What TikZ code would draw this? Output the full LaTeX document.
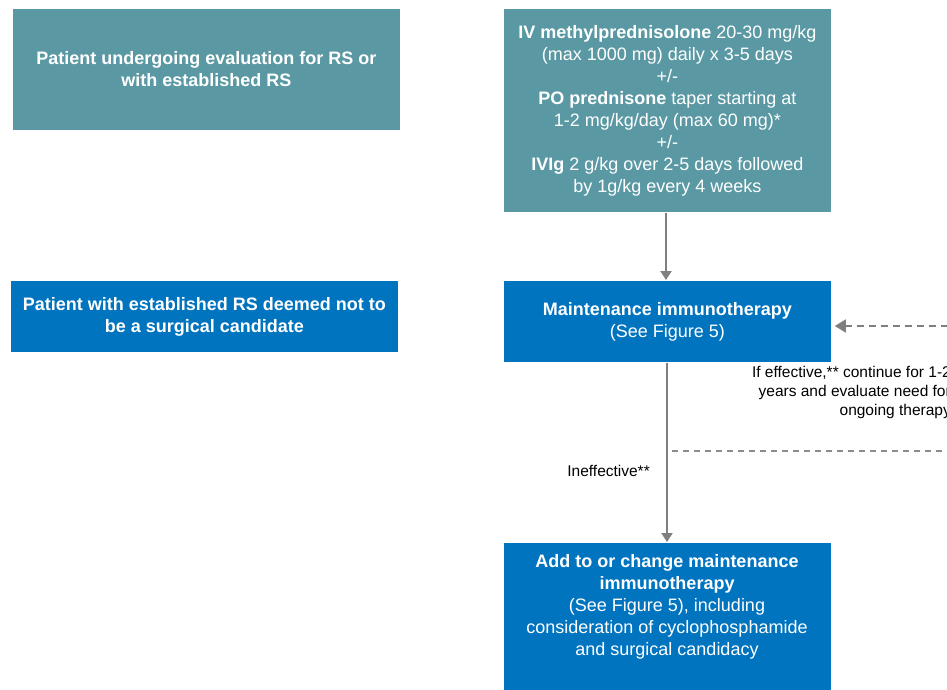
\documentclass[tikz,border=0pt]{standalone}
\usepackage{fontspec}
\setmainfont{Liberation Sans}
\usetikzlibrary{arrows.meta}
\definecolor{tealbox}{HTML}{5A99A4}
\definecolor{bluebox}{HTML}{0174C0}
\definecolor{arrowgray}{HTML}{7F7F7F}
\definecolor{dashgray}{HTML}{8C8C8C}
\tikzset{
  box/.style={draw=white, line width=0.8pt, anchor=north west, text=white, align=center, inner sep=0pt, font=\fontsize{18}{22}\selectfont},
  tealfill/.style={box, fill=tealbox},
  bluefill/.style={box, fill=bluebox},
  flow/.style={draw=arrowgray, line width=2pt, -{Triangle[width=11pt,length=9pt]}},
  dashflow/.style={draw=arrowgray, line width=1.6pt, dash pattern=on 7pt off 5pt, -{Triangle[width=13pt,length=11pt]}},
  dashline/.style={draw=dashgray, line width=1.3pt, dash pattern=on 6pt off 5pt},
  lbl/.style={font=\fontsize{15.5}{19}\selectfont, inner sep=0pt, align=right}
}
\begin{document}
\begin{tikzpicture}[x=1pt,y=-1pt]
\useasboundingbox (0,0) rectangle (947,689);
\node[tealfill, minimum width=388pt, minimum height=122pt] (A) at (12,8)
  {\textbf{Patient undergoing evaluation for RS or}\\\textbf{with established RS}};
\node[tealfill, minimum width=328pt, minimum height=204pt] (B) at (503,8)
  {\textbf{IV methylprednisolone} 20-30 mg/kg\\(max 1000 mg) daily x 3-5 days\\+/-\\\textbf{PO prednisone} taper starting at\\1-2 mg/kg/day (max 60 mg)*\\+/-\\\textbf{IVIg} 2 g/kg over 2-5 days followed\\by 1g/kg every 4 weeks};
\node[bluefill, minimum width=388pt, minimum height=72pt] (C) at (10,280)
  {\textbf{Patient with established RS deemed not to}\\\textbf{be a surgical candidate}};
\node[bluefill, minimum width=328pt, minimum height=82pt] (D) at (503,280)
  {\textbf{Maintenance immunotherapy}\\(See Figure 5)};
\node[bluefill, minimum width=328pt, minimum height=160pt] (E) at (503,542) {};
\node[anchor=north, text=white, align=center, inner sep=0pt, font=\fontsize{18}{22}\selectfont] (Et) at (667,554)
  {\textbf{Add to or change maintenance}\\\textbf{immunotherapy}\\(See Figure 5), including\\consideration of cyclophosphamide\\and surgical candidacy};
\draw[flow] (B.south -| 666,0) -- (D.north -| 666,0);
\draw[flow] (D.south -| 667,0) -- (E.north -| 667,0);
\node[lbl, anchor=east] (ineff) at (650,471) {Ineffective**};
\coordinate (inR) at (960,326);
\draw[dashflow] (inR) -- ([xshift=3pt]D.east |- 0,326);
\node[lbl, anchor=north east] (eff) at (951,366)
  {If effective,** continue for 1-2\\years and evaluate need for\\ongoing therapy};
\coordinate (dl) at (672,451);
\coordinate (dr) at (960,451);
\draw[dashline] (dl) -- (dr);
\end{tikzpicture}
\end{document}
